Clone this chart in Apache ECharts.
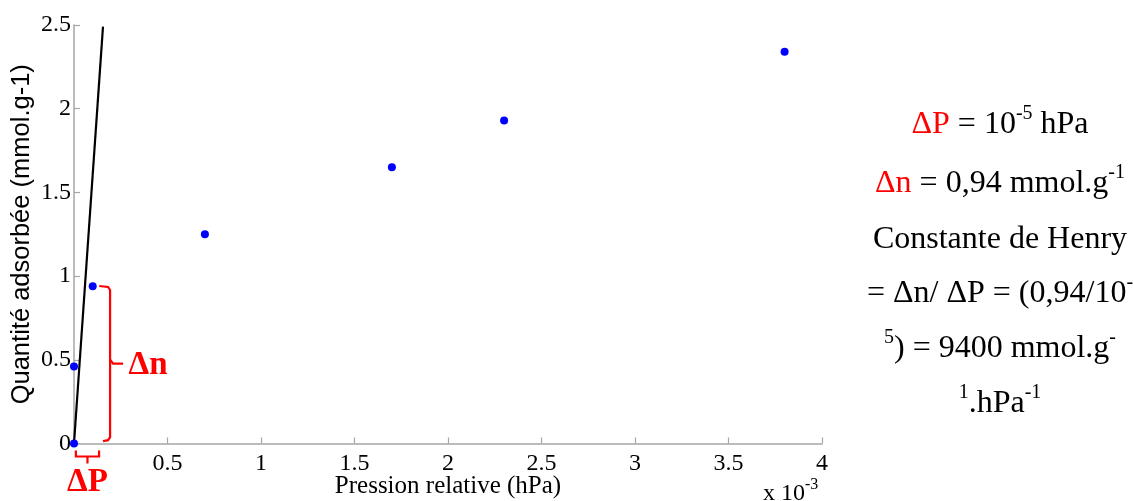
<!DOCTYPE html>
<html>
<head>
<meta charset="utf-8">
<script src="https://cdn.jsdelivr.net/npm/echarts@6/dist/echarts.min.js"></script>
<style>
html,body{margin:0;padding:0;background:#fff;}
#c{width:1133px;height:501px;}
</style>
</head>
<body>
<div id="c"></div>
<script>
// ---- data ----
const pressure = [0, 0, 0.1, 0.7, 1.7, 2.3, 3.8];          // x 10^-3 hPa
const adsorbed = [0, 0.46, 0.94, 1.25, 1.65, 1.93, 2.34];  // mmol.g-1
const henryP = [0, 0.155];
const henryN = [0, 2.49];
const xTickLabels = ['0', '0.5', '1', '1.5', '2', '2.5', '3', '3.5', '4'];
const yTickLabels = ['0', '0.5', '1', '1.5', '2', '2.5'];
const xName = 'Pression relative (hPa)';
const yName = 'Quantité adsorbée (mmol.g-1)';
// annotation spans (data units)
const dnSpan = [0.02, 0.935];   // Δn brace, along y
const dpSpan = [0.01, 0.134];   // ΔP brace, along x
const textLines = [
  '{r|ΔP} = 10{s|-5} hPa',
  '{r|Δn} = 0,94 mmol.g{s|-1}',
  'Constante de Henry',
  '= Δn/ ΔP = (0,94/10{s|-}',
  '{s|5}) = 9400 mmol.g{s|-}',
  '{s|1}.hPa{s|-1}'
];

const serif = '"Liberation Serif","Times New Roman",serif';
const sans = '"Liberation Sans",Arial,sans-serif';
const RED = '#ff0000';
const AXC = '#a6a6a6';

const chart = echarts.init(document.getElementById('c'), null, {renderer: 'canvas'});

const scatterData = pressure.map((p, i) => [p, adsorbed[i]]);
const lineData = henryP.map((p, i) => [p, henryN[i]]);

chart.setOption({
  animation: false,
  backgroundColor: '#fff',
  grid: {left: 74, right: 311, top: 25, bottom: 57.5, containLabel: false, outerBoundsMode: 'none'},
  xAxis: {
    type: 'value', min: 0, max: 4, interval: 0.5,
    name: xName, nameLocation: 'middle', nameGap: 30, nameMoveOverlap: false,
    nameTextStyle: {fontFamily: serif, fontSize: 25, color: '#000'},
    axisLine: {show: true, onZero: false, lineStyle: {color: AXC, width: 1.5}},
    axisTick: {show: true, inside: true, length: 6, lineStyle: {color: AXC, width: 1.2}},
    axisLabel: {show: true, showMinLabel: false, margin: 8, fontFamily: serif, fontSize: 24, color: '#000',
      formatter: (v) => { const i = Math.round(v / 0.5); return xTickLabels[i] !== undefined ? xTickLabels[i] : ''; }},
    splitLine: {show: false}
  },
  yAxis: {
    type: 'value', min: 0, max: 2.5, interval: 0.5,
    name: yName, nameLocation: 'middle', nameGap: 39, nameRotate: 90, nameMoveOverlap: false,
    nameTextStyle: {fontFamily: sans, fontSize: 25.5, color: '#000'},
    axisLine: {show: true, onZero: false, lineStyle: {color: AXC, width: 1.5}},
    axisTick: {show: true, inside: true, length: 6, lineStyle: {color: AXC, width: 1.2}},
    axisLabel: {show: true, margin: 3, fontFamily: serif, fontSize: 24, color: '#000',
      formatter: (v) => { const i = Math.round(v / 0.5); return yTickLabels[i] !== undefined ? yTickLabels[i] : ''; }},
    splitLine: {show: false}
  },
  series: [
    {
      type: 'line', data: lineData, showSymbol: false, symbol: 'none',
      lineStyle: {color: '#000', width: 2.2}, z: 2, silent: true
    },
    {
      type: 'scatter', data: scatterData, symbol: 'circle', symbolSize: 8,
      itemStyle: {color: '#0000ff', opacity: 1}, z: 3, silent: true
    }
  ]
});

function px(p) { return chart.convertToPixel({gridIndex: 0}, p); }

// Δn brace
const bx = 0.193;
const bTop = px([bx, dnSpan[1]]);
const bBot = px([bx, dnSpan[0]]);
const midY = (bTop[1] + bBot[1]) / 2;
const topL = px([0.135, dnSpan[1]]);
const botL = px([0.155, dnSpan[0]]);
// ΔP brace
const pl = px([dpSpan[0], 0]);
const pr = px([dpSpan[1], 0]);
const pMidX = (pl[0] + pr[0]) / 2;
const base = pl[1];

const rich = {
  r: {fill: RED, color: RED, fontFamily: serif, fontSize: 32, lineHeight: 42},
  s: {fontFamily: serif, fontSize: 20, lineHeight: 42, verticalAlign: 'top', color: '#000', fill: '#000'}
};

const graphics = [
  {type: 'polyline', shape: {points: [[topL[0], bTop[1] - 1], [bTop[0] - 2, bTop[1]], [bTop[0], bTop[1] + 3], [bBot[0], bBot[1] - 3], [bBot[0] - 2, bBot[1]], [botL[0], bBot[1] + 1]]},
   style: {stroke: RED, lineWidth: 2.2, fill: null}},
  {type: 'polyline', shape: {points: [[bTop[0], midY - 4], [bTop[0] + 3, midY], [bTop[0] + 13, midY]]},
   style: {stroke: RED, lineWidth: 2.2, fill: null}},
  {type: 'text', x: bTop[0] + 38, y: midY + 2, style: {text: 'Δn', fill: RED, font: 'bold 33px ' + serif, align: 'center', verticalAlign: 'middle'}},
  {type: 'polyline', shape: {points: [[pl[0], base + 7], [pl[0], base + 13], [pr[0], base + 13], [pr[0], base + 7]]},
   style: {stroke: RED, lineWidth: 2.2, fill: null}},
  {type: 'polyline', shape: {points: [[pMidX, base + 13], [pMidX, base + 20]]},
   style: {stroke: RED, lineWidth: 2.2, fill: null}},
  {type: 'text', x: pMidX, y: base + 39, style: {text: 'ΔP', fill: RED, font: 'bold 33px ' + serif, align: 'center', verticalAlign: 'middle'}},
  {type: 'text', x: 763, y: 494, style: {text: 'x 10{s|-3}', fill: '#000', font: '24px ' + serif, align: 'left', verticalAlign: 'middle',
    rich: {s: {fontFamily: serif, fontSize: 16, lineHeight: 34, verticalAlign: 'top', fill: '#000'}}}}
];

const lineY = [125, 184, 240, 294, 349, 404];
textLines.forEach((t, i) => {
  graphics.push({type: 'text', x: 1000, y: lineY[i], style: {
    text: t, fill: '#000', font: '32px ' + serif, align: 'center', verticalAlign: 'middle', rich: rich
  }});
});

chart.setOption({graphic: graphics});
</script>
</body>
</html>
